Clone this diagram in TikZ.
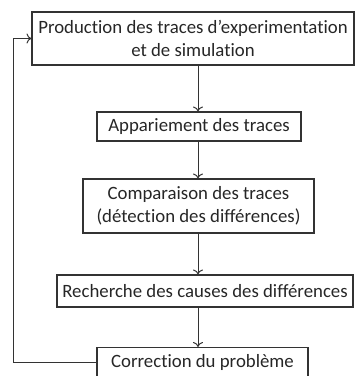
\documentclass[tikz,border=0pt]{standalone}
\usepackage{fontspec}
\setmainfont{Carlito}[Ligatures=NoCommon]
\usetikzlibrary{positioning,arrows.meta}

\begin{document}
\begin{tikzpicture}[x=1pt,y=-1pt,
  etape/.style={draw=black!80,line width=1.1pt,inner sep=0pt,align=center,
    font=\fontsize{18.8}{23}\selectfont,text=black!85},
  fleche/.style={-{To[length=5pt,width=10pt]},line width=1pt,draw=black!80}]
\useasboundingbox (0,0) rectangle (356,376);
\coordinate (axe) at (198,0);
\node[etape,minimum width=322,minimum height=53] (prod) at (193,38.5) {Production des traces d'experimentation\\et de simulation};
\node[etape,minimum width=204,minimum height=29] (app) at (199,126.5) {Appariement des traces};
\node[etape,minimum width=231,minimum height=54] (comp) at (198.5,206) {Comparaison des traces\\(détection des différences)};
\node[etape,minimum width=296,minimum height=32] (rech) at (205,291) {Recherche des causes des différences};
\node[etape,minimum width=211,minimum height=29] (corr) at (202.5,362) {Correction du problème};
\coordinate (gauche) at (13,0);
\draw[fleche] (prod.south -| axe)--(app.north -| axe);
\draw[fleche] (app.south -| axe)--(comp.north -| axe);
\draw[fleche] (comp.south -| axe)--(rech.north -| axe);
\draw[fleche] (rech.south -| axe)--(corr.north -| axe);
\draw[fleche] (corr.west)--(corr.west -| gauche)--(prod.west -| gauche)--(prod.west);
\end{tikzpicture}
\end{document}
